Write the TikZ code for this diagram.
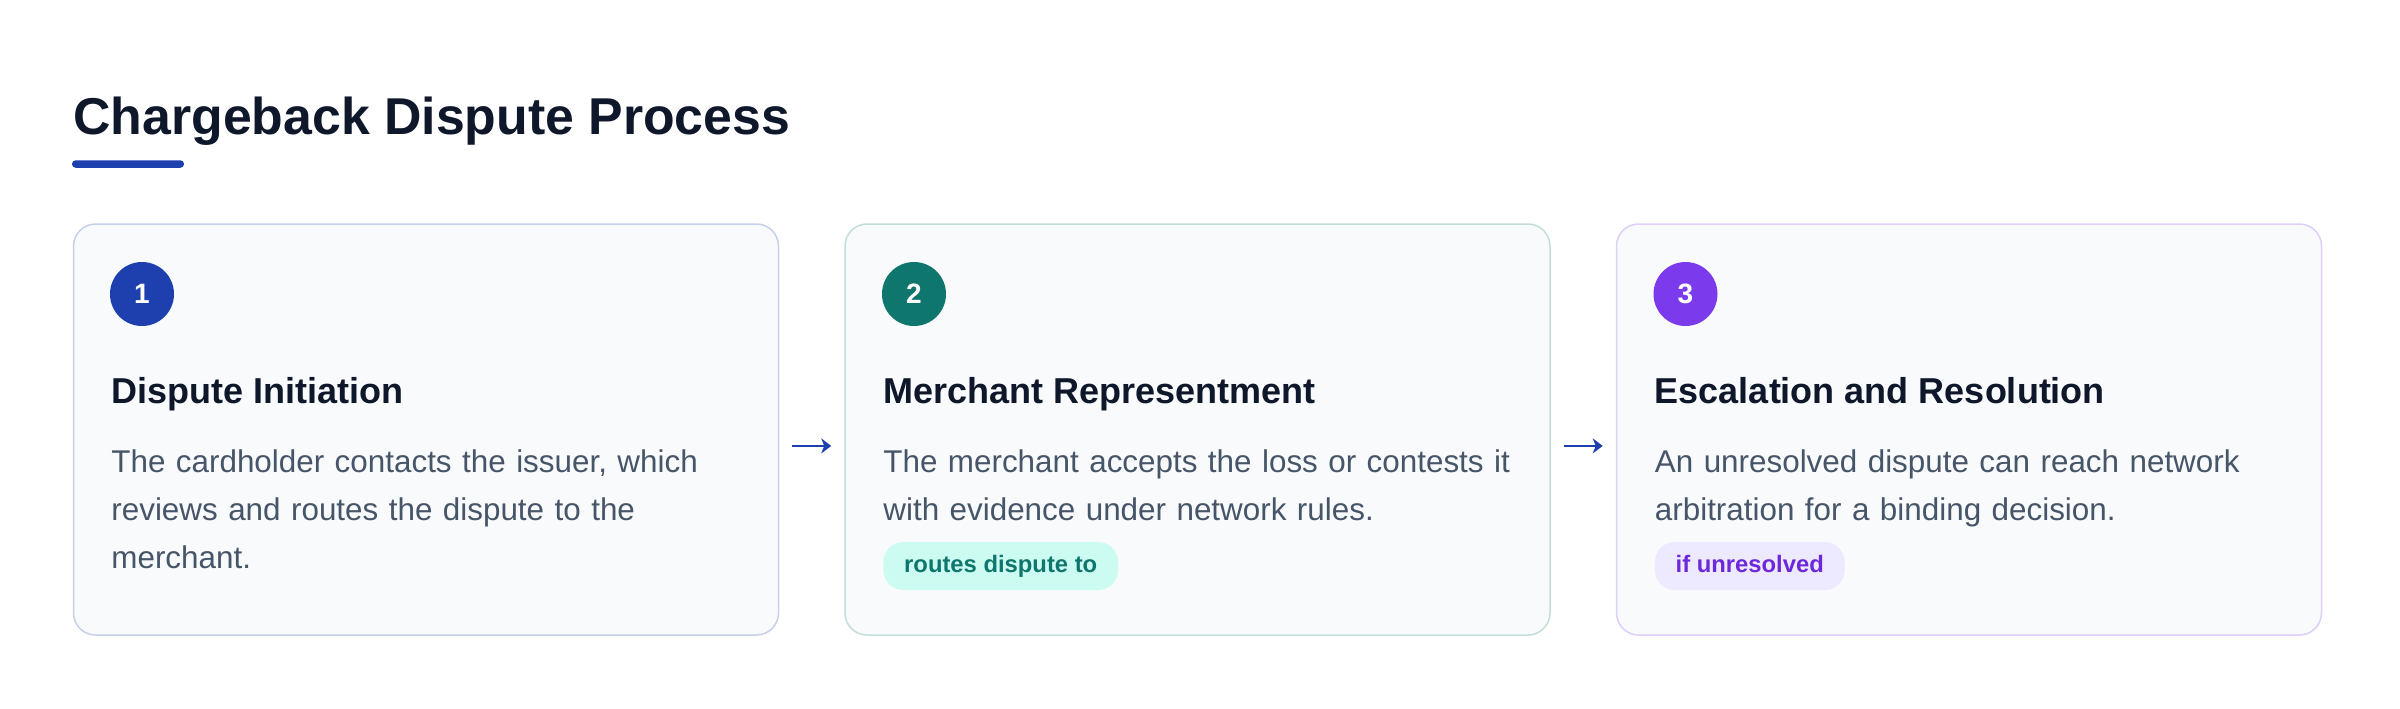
\documentclass[tikz,border=0pt]{standalone}
\usepackage{fontspec}
\setmainfont{Liberation Sans}
\usetikzlibrary{arrows.meta, positioning}

\definecolor{ink}{HTML}{0F172A}
\definecolor{slate}{HTML}{475569}
\definecolor{paper}{HTML}{F8FAFC}
\definecolor{blue1}{HTML}{1E40AF}
\definecolor{teal1}{HTML}{0F766E}
\definecolor{violet1}{HTML}{7C3AED}
\definecolor{violet2}{HTML}{6D28D9}
\definecolor{tealbg}{HTML}{CCFBF1}
\definecolor{violetbg}{HTML}{EDE9FE}

\begin{document}
\begin{tikzpicture} [
    x=0.5pt, y=-0.5pt,
    card/.style = {fill=paper, line width=0.75pt, rounded corners=11pt,
        minimum width=352.5pt, minimum height=205.5pt, inner sep=0pt},
    badge/.style = {circle, minimum size=32pt, inner sep=0pt, text=white,
        font=\fontsize{14}{14}\selectfont\bfseries},
    head/.style = {anchor=base west, inner sep=0pt, text=ink,
        font=\fontsize{18}{22}\selectfont\bfseries},
    desc/.style = {anchor=base west, inner sep=0pt, text=slate,
        text width=345pt, align=left, font=\fontsize{15.7}{24}\selectfont},
    tag/.style = {anchor=west, rounded corners=10pt, inner xsep=10.4pt,
        inner ysep=0pt, minimum height=24pt, text height=8.6pt, text depth=2.5pt,
        font=\fontsize{11.9}{12}\selectfont\bfseries},
    flow/.style = {color=blue1, line width=0.9pt, shorten <=6.5pt, shorten >=6.5pt,
        -{Stealth[length=5pt, width=7.5pt, inset=1.5pt]}}]
    \useasboundingbox (0,0) rectangle (2400,708);

    \node (title) [anchor=base west, inner sep=0pt, text=ink,
        font=\fontsize{25.9}{30}\selectfont\bfseries] at (73,134) {Chargeback Dispute Process};
    \node (bar) [fill=blue1, rounded corners=1.8pt, minimum width=56pt,
        minimum height=3.75pt, inner sep=0pt] at (128,164) {};

    \node (b1) [card, draw=blue1!25] at (426,429.5) {};
    \node (b2) [card, draw=teal1!25] at (1197.5,429.5) {};
    \node (b3) [card, draw=violet1!25] at (1969,429.5) {};

    \node (n1) [badge, fill=blue1] at (142,294) {1};
    \node (n2) [badge, fill=teal1] at (914,294) {2};
    \node (n3) [badge, fill=violet1] at (1685.5,294) {3};

    \node (h1) [head] at (111,403) {Dispute Initiation};
    \node (h2) [head] at (883,403) {Merchant Representment};
    \node (h3) [head] at (1654.5,403) {Escalation and Resolution};

    \node (d1) [desc] at (111,472) {The cardholder contacts the issuer, which\\
        reviews and routes the dispute to the\\ merchant.};
    \node (d2) [desc] at (883,472) {The merchant accepts the loss or contests it\\
        with evidence under network rules.};
    \node (d3) [desc] at (1654.5,472) {An unresolved dispute can reach network\\
        arbitration for a binding decision.};

    \node (p2) [tag, fill=tealbg, text=teal1] at (883,566) {routes dispute to};
    \node (p3) [tag, fill=violetbg, text=violet2] at (1654.5,566) {if unresolved};

    \path [flow]
        ([yshift=-8.2pt]b1.east) edge ([yshift=-8.2pt]b2.west)
        ([yshift=-8.2pt]b2.east) edge ([yshift=-8.2pt]b3.west);
\end{tikzpicture}
\end{document}
